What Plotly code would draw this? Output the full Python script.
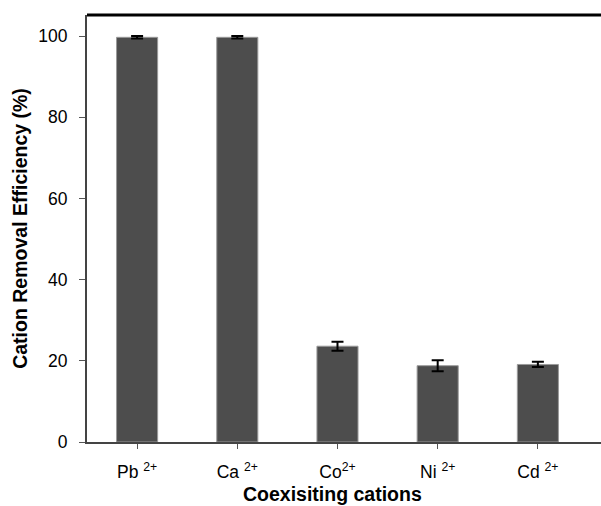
import plotly.graph_objects as go

categories = ["Pb <sup>2+</sup>", "Ca <sup>2+</sup>", "Co<sup>2+</sup>", "Ni <sup>2+</sup>", "Cd <sup>2+</sup>"]
values = [99.7, 99.7, 23.6, 18.8, 19.1]
errors = [0.3, 0.3, 1.1, 1.35, 0.65]
y_ticks = [0, 20, 40, 60, 80, 100]

fig = go.Figure()
fig.add_trace(go.Bar(
    x=list(range(len(categories))),
    y=values,
    width=0.41,
    marker=dict(color="#4d4d4d", line=dict(color="#9a9a9a", width=1)),
    error_y=dict(type="data", array=errors, visible=True, color="black", thickness=2, width=6),
    showlegend=False,
))

fig.update_layout(
    width=601, height=506,
    margin=dict(l=87, r=0, t=15, b=64),
    paper_bgcolor="white", plot_bgcolor="white",
    font=dict(family="Liberation Sans, Arial, sans-serif", color="black"),
    xaxis=dict(
        range=[-0.5, 4.63],
        tickmode="array",
        tickvals=list(range(len(categories))),
        ticktext=categories,
        tickson="boundaries",
        ticks="outside", ticklen=5, tickcolor="#555555", tickwidth=1,
        showline=True, linecolor="#444444", linewidth=2,
        showgrid=False, zeroline=False,
        tickfont=dict(size=17.5),
        ticklabelstandoff=8,
        automargin=False,
    ),
    yaxis=dict(
        range=[0, 105.2],
        tickmode="array", tickvals=y_ticks,
        ticks="outside", ticklen=6, tickcolor="#555555", tickwidth=1,
        showline=True, linecolor="#444444", linewidth=2,
        showgrid=False, zeroline=False,
        tickfont=dict(size=17.5),
        ticklabelstandoff=8,
        title=dict(text="<b>Cation Removal Efficiency (%)</b>", font=dict(size=19.5), standoff=5),
    ),
    shapes=[dict(type="line", xref="paper", yref="paper", x0=0, x1=1, y0=1, y1=1,
                 line=dict(color="black", width=3))],
    annotations=[dict(text="<b>Coexisiting cations</b>", xref="paper", yref="paper",
                      x=0.477, y=0, xanchor="center", yanchor="bottom", yshift=-64,
                      borderpad=0, showarrow=False, font=dict(size=19.5))],
)

fig.write_html("out.html")
